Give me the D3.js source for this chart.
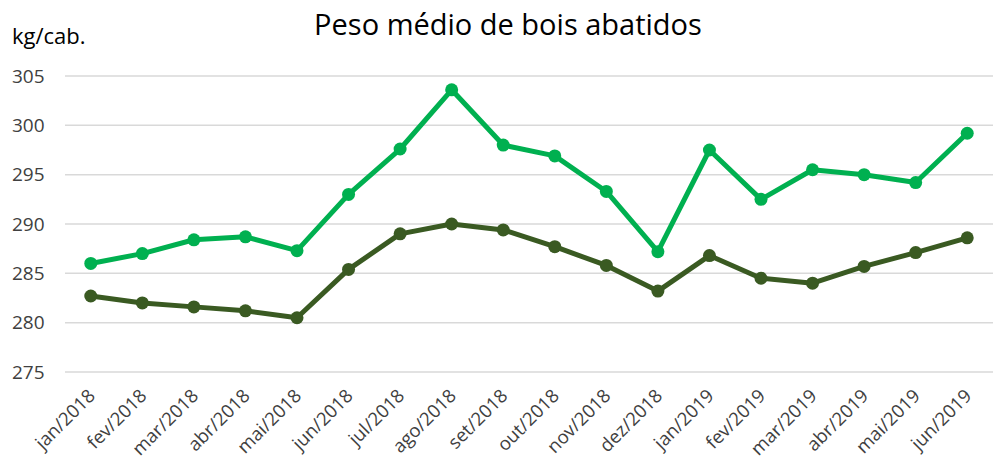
<!DOCTYPE html>
<html><head><meta charset="utf-8">
<script src="https://cdn.jsdelivr.net/npm/d3@7"></script>
<style>body{margin:0;background:#fff}svg{display:block}</style>
</head><body>
<svg id="c" width="1000" height="463"></svg>
<script>
const categories = ["jan/2018","fev/2018","mar/2018","abr/2018","mai/2018","jun/2018","jul/2018","ago/2018","set/2018","out/2018","nov/2018","dez/2018","jan/2019","fev/2019","mar/2019","abr/2019","mai/2019","jun/2019"];
const seriesUpper = [286.0,287.0,288.4,288.7,287.3,293.0,297.6,303.6,298.0,296.9,293.3,287.2,297.5,292.5,295.5,295.0,294.2,299.2];
const seriesLower = [282.7,282.0,281.6,281.2,280.5,285.4,289.0,290.0,289.4,287.7,285.8,283.2,286.8,284.5,284.0,285.7,287.1,288.6];
const yTicks = [275,280,285,290,295,300,305];

const svg = d3.select("#c");
const font = "'Open Sans', sans-serif";
const x = d3.scalePoint().domain(categories).range([65,993]).padding(0.5);
const y = d3.scaleLinear().domain([275,305]).range([372,76]);

// grid
svg.append("g").selectAll("line").data(yTicks).join("line")
  .attr("x1",65).attr("x2",993).attr("y1",d=>y(d)).attr("y2",d=>y(d))
  .attr("stroke","#d9d9d9").attr("stroke-width",1.5);

// y axis labels
const ya = svg.append("g").attr("transform","translate(12,0)")
  .call(d3.axisLeft(y).tickValues(yTicks).tickSize(0).tickPadding(0));
ya.select(".domain").remove();
ya.selectAll("text").attr("text-anchor","start").attr("x",0).attr("dy","0.33em")
  .style("font-family",font).style("font-size","19px").attr("fill","#404040");

// x axis labels
const xa = svg.append("g").attr("transform","translate(0,372)")
  .call(d3.axisBottom(x).tickSize(0).tickPadding(0));
xa.select(".domain").remove();
xa.selectAll("text")
  .attr("text-anchor","end").attr("x",0).attr("y",0).attr("dy",0)
  .attr("transform","translate(5,25) rotate(-45)")
  .style("font-family",font).style("font-size","18.5px").attr("fill","#404040");

// lines
const line = d3.line().x((d,i)=>x(categories[i])).y(d=>y(d));
function drawSeries(data,color){
  svg.append("path").datum(data).attr("d",line).attr("fill","none")
    .attr("stroke",color).attr("stroke-width",5).attr("stroke-linejoin","round");
  svg.append("g").selectAll("circle").data(data).join("circle")
    .attr("cx",(d,i)=>x(categories[i])).attr("cy",d=>y(d)).attr("r",6.5).attr("fill",color);
}
drawSeries(seriesLower,"#3a5a22");
drawSeries(seriesUpper,"#00b050");

// title
svg.append("text").attr("x",508).attr("y",35).attr("text-anchor","middle")
  .style("font-family",font).style("font-size","29px").attr("fill","#000").text("Peso médio de bois abatidos");
svg.append("text").attr("x",12).attr("y",44)
  .style("font-family",font).style("font-size","22px").attr("fill","#000").text("kg/cab.");
</script>
</body></html>
